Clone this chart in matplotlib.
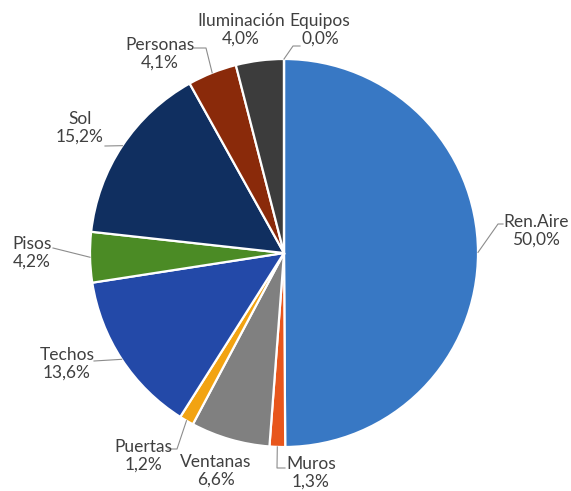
import numpy as np
import matplotlib
matplotlib.use("Agg")
import matplotlib.pyplot as plt

# cargas térmicas por componente (%)
labels = ["Ren.Aire", "Muros", "Ventanas", "Puertas", "Techos", "Pisos",
          "Sol", "Personas", "Iluminación", "Equipos"]
values = [50.0, 1.3, 6.6, 1.2, 13.6, 4.2, 15.2, 4.1, 4.0, 0.0]
colors = ["#3878c4", "#e8561c", "#808080", "#f2a312", "#2349a8", "#4b8b25",
          "#102f60", "#8a2a0a", "#3c3c3c", "#6a9fd8"]

W, H = 571, 491
CX, CY, R = 284, 253, 194

# text block centre (px) and leader elbow points (px) per label
label_pos = {
    "Ren.Aire": (536, 231), "Muros": (311, 473), "Ventanas": (216, 471),
    "Puertas": (143, 456), "Techos": (67, 364), "Pisos": (32, 253),
    "Sol": (80, 128), "Personas": (160, 54), "Iluminación": (241, 30),
    "Equipos": (320, 30),
}
leaders = {
    "Ren.Aire": [(498, 224), (503, 224)],
    "Muros": [(277, 468), (285, 468)],
    "Puertas": [(177, 449), (168, 449)],
    "Techos": [(94, 361)],
    "Pisos": [(53, 248)],
    "Sol": [(105, 146)],
    "Personas": [(206, 48), (194, 48)],
    "Equipos": [(293, 46), (300, 46)],
}


def px(x, y):
    return x, H - y


fig = plt.figure(figsize=(W / 100, H / 100), dpi=100)
ax = fig.add_axes([0, 0, 1, 1])

wedges, _ = ax.pie(values, colors=colors, startangle=90, counterclock=False,
                   center=px(CX, CY), radius=R, frame=True,
                   wedgeprops=dict(edgecolor="white", linewidth=1.6))
ax.set_xlim(0, W)
ax.set_ylim(0, H)
ax.set_aspect("equal")
ax.axis("off")

for w, name, v in zip(wedges, labels, values):
    mid = np.deg2rad((w.theta1 + w.theta2) / 2)
    if name in leaders:
        ex, ey = CX + R * np.cos(mid), CY - R * np.sin(mid)
        pts = [(ex, ey)] + leaders[name]
        ax.plot([p[0] for p in pts], [H - p[1] for p in pts],
                color="#8c8c8c", lw=0.8, zorder=3)
    pct = f"{v:.1f}%".replace(".", ",")
    ax.text(*px(*label_pos[name]), f"{name}\n{pct}",
            ha="center", va="center", fontsize=12.5, family="Lato",
            color="#404040", linespacing=1.15)

fig.savefig("out.png", dpi=100)
